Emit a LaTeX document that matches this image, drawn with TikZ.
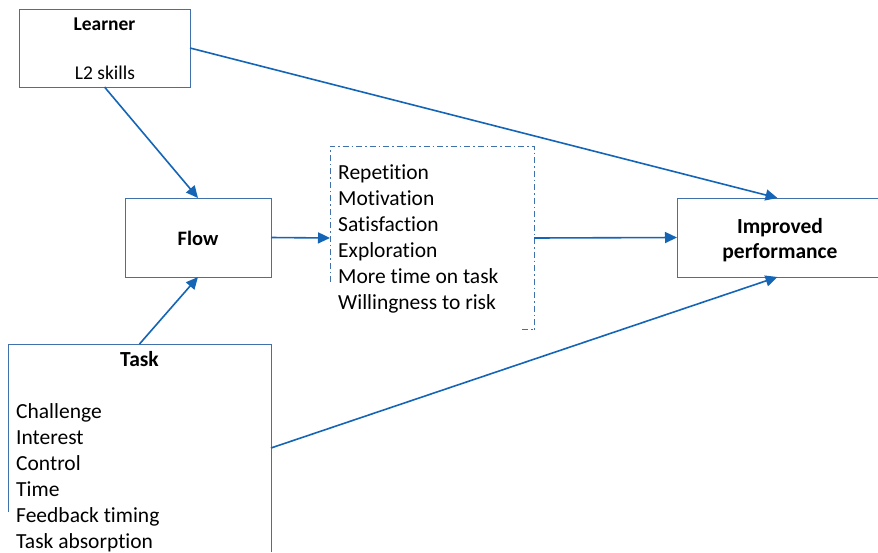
\documentclass[tikz,border=0pt]{standalone}
\usepackage{fontspec}
\setmainfont[Ligatures=NoCommon]{Carlito}
\usetikzlibrary{arrows.meta}
\definecolor{boxline}{RGB}{65,113,170}
\definecolor{arrowcol}{RGB}{21,101,183}
\tikzset{
  anchorbox/.style={draw=none, inner sep=0pt, outer sep=0pt},
  boxline/.style={draw=boxline, line width=1pt},
  dashline/.style={draw=boxline, line width=1pt, dash pattern=on 6pt off 3pt on 1.5pt off 3pt},
  conn/.style={draw=arrowcol, line width=1.6pt, -{Triangle[length=12pt,width=11pt]}},
  bigtxt/.style={font=\fontsize{21.5}{26}\selectfont, inner sep=0pt, anchor=base west},
  boldtxt/.style={font=\fontsize{21.5}{26}\selectfont\bfseries, inner sep=0pt, anchor=base},
  smalltxt/.style={font=\fontsize{19.5}{24}\selectfont, inner sep=0pt, anchor=base},
  smallbold/.style={font=\fontsize{19.5}{24}\selectfont\bfseries, inner sep=0pt, anchor=base}
}
\begin{document}
\begin{tikzpicture}[x=1pt,y=-1pt]
\useasboundingbox[fill=white] (0,0) rectangle (878,552);

% Learner box
\node[anchorbox, boxline, minimum width=171pt, minimum height=78pt] (learner) at (104.5,48) {};
\node[smallbold] (learnerT) at (104.5,30.5) {Learner};
\node[smalltxt] (learnerS) at (105,79) {L2 skills};

% Flow box
\node[anchorbox, boxline, minimum width=146pt, minimum height=79pt] (flow) at (198,237.5) {};
\node[smallbold, font=\fontsize{20.5}{24}\selectfont\bfseries] (flowT) at (198,245) {Flow};

% Dashed box (outcomes)
\node[anchorbox, minimum width=204pt, minimum height=184pt] (out) at (432,238) {};
\draw[dashline] (330,282) -- (330,146) -- (534,146) -- (534,330);
\draw[dashline] (522,329) -- (534,329);
\node[bigtxt] (o1) at (338,179) {Repetition};
\node[bigtxt] (o2) at (338,205) {Motivation};
\node[bigtxt] (o3) at (338,231) {Satisfaction};
\node[bigtxt] (o4) at (338,257) {Exploration};
\node[bigtxt] (o5) at (338,283) {More time on task};
\node[bigtxt] (o6) at (338,309) {Willingness to risk};

% Improved performance box (right side beyond picture)
\node[anchorbox, minimum width=201pt, minimum height=79pt] (imp) at (777.5,237.5) {};
\draw[boxline] (imp.north east) -- (imp.north west) -- (imp.south west) -- (imp.south east);
\node[boldtxt] (imp1) at (780,233) {Improved};
\node[boldtxt] (imp2) at (780,258) {performance};

% Task box (bottom beyond picture)
\node[anchorbox, minimum width=263pt, minimum height=208pt] (task) at (139.5,448) {};
\draw[boxline] (8,512) -- (task.north west) -- (task.north east) -- (task.south east);
\node[boldtxt] (taskT) at (139.5,366) {Task};
\node[bigtxt] (t1) at (16,418) {Challenge};
\node[bigtxt] (t2) at (16,444) {Interest};
\node[bigtxt] (t3) at (16,470) {Control};
\node[bigtxt] (t4) at (16,496) {Time};
\node[bigtxt] (t5) at (16,522) {Feedback timing};
\node[bigtxt] (t6) at (16,548) {Task absorption};

% Connectors
\draw[conn] (learner.east) -- (imp.north);
\draw[conn] (learner.south) -- (flow.north);
\draw[conn] (task.north) -- (flow.south);
\draw[conn] (flow.east) -- (out.west);
\draw[conn] (out.east) -- (imp.west);
\draw[conn] (task.east) -- (imp.south);
\end{tikzpicture}
\end{document}
